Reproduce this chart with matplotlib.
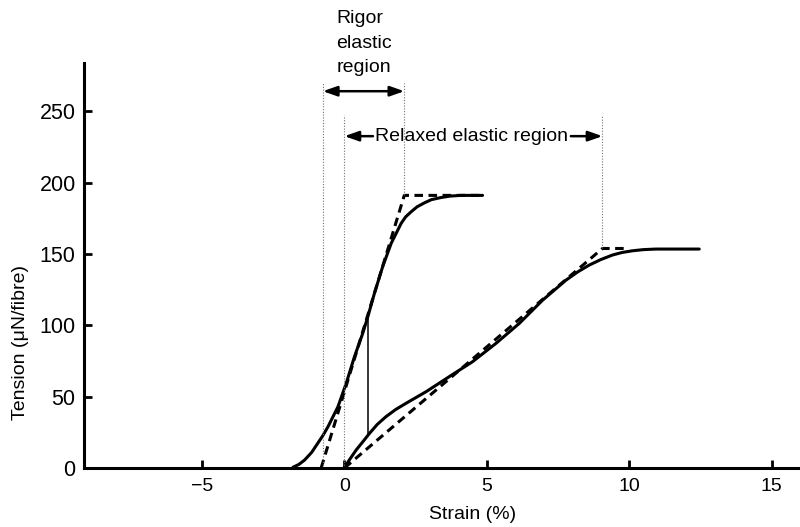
import matplotlib.pyplot as plt

plt.rcParams['font.family'] = ['Liberation Sans', 'DejaVu Sans']

# rigor fibre: measured curve and its straight-line fit
rigor_strain = [-1.81, -1.60, -1.40, -1.15, -0.94, -0.75, -0.58, -0.23, 0.06, 0.35,
                0.64, 0.82, 1.05, 1.34, 1.64, 1.99, 2.15, 2.34, 2.55, 2.81,
                3.05, 3.39, 3.70, 4.09, 4.85]
rigor_tension = [0.5, 2.5, 5.6, 11.0, 17.3, 23.0, 28.9, 42.9, 59.3, 78.0,
                 94.3, 106.0, 122.3, 141.0, 157.4, 171.4, 176.0, 179.5, 183.0, 185.8,
                 188.0, 189.5, 190.5, 191.0, 191.0]
rigor_fit_strain = [-0.82, 2.1, 4.85]
rigor_fit_tension = [0, 191, 191]

# relaxed fibre
relaxed_strain = [0, 0.20, 0.41, 0.65, 0.88, 1.15, 1.46, 1.80, 2.16, 2.87,
                  3.68, 4.5, 5.32, 6.14, 6.96, 7.78, 8.20, 8.6, 9.0, 9.41,
                  9.75, 10.12, 10.5, 10.94, 12.46]
relaxed_tension = [0.5, 6.5, 12.6, 18.5, 24.3, 30.5, 36.0, 41.0, 45.3, 53.5,
                   64.0, 74.5, 87.3, 101.3, 117.6, 131.6, 137.5, 142.2, 146.0, 149.2,
                   151.0, 152.2, 153.0, 153.4, 153.4]
relaxed_fit_strain = [0, 9.06, 10.0]
relaxed_fit_tension = [0, 153.8, 153.8]

# vertical step between the two curves
step_strain = 0.82
step_tension = [106, 23]

rigor_region = [-0.76, 2.1]
relaxed_region = [0, 9.06]

x_ticks = [-5, 0, 5, 10, 15]
x_labels = ['\u22125', '0', '5', '10', '15']
y_ticks = [0, 50, 100, 150, 200, 250]

fig = plt.figure(figsize=(8, 5.27), dpi=100)
ax = fig.add_axes([0.105, 0.112, 0.895, 0.768])

ax.plot(rigor_strain, rigor_tension, color='black', lw=2.2, solid_capstyle='round')
ax.plot(rigor_fit_strain, rigor_fit_tension, color='black', lw=2.2, ls=(0, (2.8, 1.8)))
ax.plot(relaxed_strain, relaxed_tension, color='black', lw=2.2, solid_capstyle='round')
ax.plot(relaxed_fit_strain, relaxed_fit_tension, color='black', lw=2.2, ls=(0, (2.8, 1.8)))
ax.plot([step_strain, step_strain], step_tension, color='black', lw=1.1)

# dotted guide lines marking the elastic regions
dot = dict(color='0.45', lw=0.8, ls=(0, (1, 1.5)))
ax.plot([rigor_region[0]] * 2, [0, 270], **dot)
ax.plot([rigor_region[1]] * 2, [191, 270], **dot)
ax.plot([relaxed_region[0]] * 2, [0, 247], **dot)
ax.plot([relaxed_region[1]] * 2, [153.8, 247], **dot)

head = 'head_length=0.85,head_width=0.3'
ax.annotate('', xy=(rigor_region[1], 264), xytext=(rigor_region[0], 264),
            arrowprops=dict(arrowstyle='<|-|>,' + head, color='black', lw=1.8,
                            shrinkA=0, shrinkB=0, mutation_scale=10))
ax.annotate('', xy=(relaxed_region[0], 232.5), xytext=(1.0, 232.5),
            arrowprops=dict(arrowstyle='-|>,' + head, color='black', lw=1.8,
                            shrinkA=0, shrinkB=0, mutation_scale=10))
ax.annotate('', xy=(relaxed_region[1], 232.5), xytext=(7.95, 232.5),
            arrowprops=dict(arrowstyle='-|>,' + head, color='black', lw=1.8,
                            shrinkA=0, shrinkB=0, mutation_scale=10))
ax.text(4.47, 232.5, 'Relaxed elastic region', ha='center', va='center', fontsize=14)
ax.text(-0.28, 321, 'Rigor\nelastic\nregion', ha='left', va='top', fontsize=14,
        linespacing=1.6)

ax.set_xlim(-9.15, 16)
ax.set_ylim(0, 283.6)
ax.set_xticks(x_ticks)
ax.set_xticklabels(x_labels)
ax.set_yticks(y_ticks)
ax.tick_params(direction='in', length=6, width=2)
ax.tick_params(axis='x', labelsize=14, pad=7)
ax.tick_params(axis='y', labelsize=15.5, pad=6)

for side in ['top', 'right']:
    ax.spines[side].set_visible(False)
for side in ['left', 'bottom']:
    ax.spines[side].set_linewidth(2.2)

ax.set_xlabel('Strain (%)', fontsize=14)
ax.xaxis.set_label_coords(0.542, -0.095)
ax.set_ylabel('Tension (\u03bcN/fibre)', fontsize=14)
ax.yaxis.set_label_coords(-0.089, 0.31)
ax.yaxis.label.set_va('center')

fig.savefig('out.png', dpi=100)
